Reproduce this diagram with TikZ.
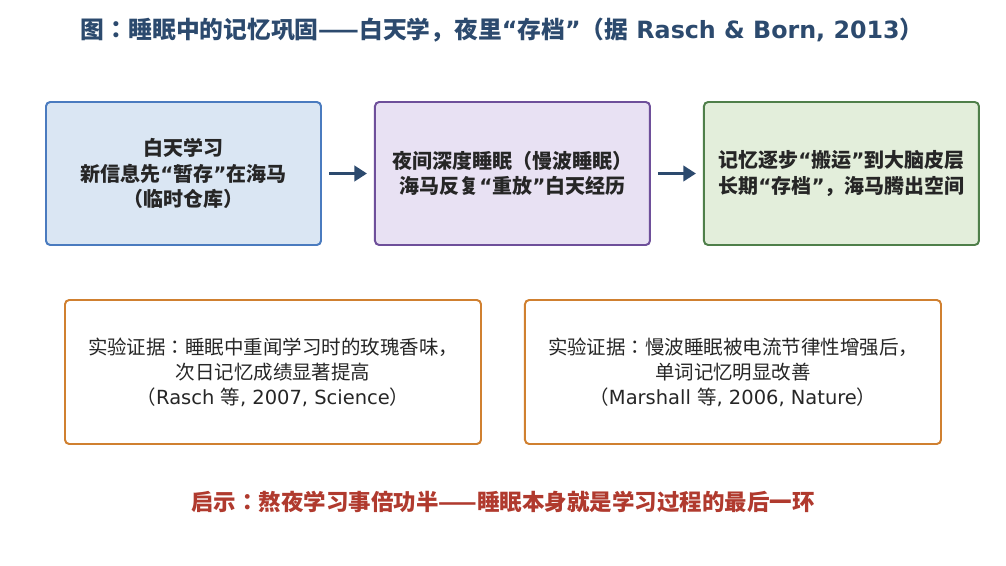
\documentclass[tikz,border=0pt]{standalone}
\usepackage{fontspec}
\setmainfont{DejaVu Sans}
\newfontfamily\cjk{Noto Sans CJK JP}
\usepackage{xcolor}
\usepackage{tikz}
\usetikzlibrary{arrows.meta, positioning}

\definecolor{titleblue}{HTML}{2C4A6E}
\definecolor{dayfill}{HTML}{DAE6F3}
\definecolor{dayline}{HTML}{4A7BBF}
\definecolor{nightfill}{HTML}{E8E1F3}
\definecolor{nightline}{HTML}{6E4F9A}
\definecolor{cortexfill}{HTML}{E3EEDB}
\definecolor{cortexline}{HTML}{4F7F4A}
\definecolor{proofline}{HTML}{D08030}
\definecolor{hintred}{HTML}{B03A2E}

\begin{document}
\begin{tikzpicture}[
    node distance = 1.3cm and 1.3cm,
    stage/.style = {draw, rounded corners=3pt, line width=1.4pt,
                    minimum width=6.875cm, minimum height=3.575cm,
                    align=center, text=black!85,
                    font=\bfseries\fontsize{14.2}{18.3}\selectfont},
    proof/.style = {draw=proofline, fill=white, rounded corners=3pt,
                    line width=1.4pt, minimum width=10.4cm,
                    minimum height=3.6cm, align=center, text=black!85,
                    font=\fontsize{13.85}{17.8}\selectfont},
    flow/.style  = {draw=titleblue, line width=2pt, shorten <=5pt,
                    shorten >=5pt, -{Triangle[length=9pt, width=11pt]}},
                            ]
    \useasboundingbox (0,0) rectangle (25.15,-14.15);
    \node (title) [text=titleblue, font=\bfseries\fontsize{16.9}{19}\selectfont]
        at (12.555,-0.75) {{\cjk 图：睡眠中的记忆巩固——白天学，夜里}“{\cjk 存档}”{\cjk （据} Rasch \& Born, 2013{\cjk ）}};
    \node (day) [stage, fill=dayfill, draw=dayline] at (4.5875,-4.3375)
        {{\cjk 白天学习}\\{\cjk 新信息先}“{\cjk 暂存}”{\cjk 在海马}\\{\cjk （临时仓库）}};
    \node (night) [stage, fill=nightfill, draw=nightline, right=of day]
        {{\cjk 夜间深度睡眠（慢波睡眠）}\\{\cjk 海马反复}“{\cjk 重放}”{\cjk 白天经历}};
    \node (cortex) [stage, fill=cortexfill, draw=cortexline, right=of night]
        {{\cjk 记忆逐步}“{\cjk 搬运}”{\cjk 到大脑皮层}\\{\cjk 长期}“{\cjk 存档}”{\cjk ，海马腾出空间}};
    \node (rasch) [proof] at (6.825,-9.3)
        {{\cjk 实验证据：睡眠中重闻学习时的玫瑰香味，}\\{\cjk 次日记忆成绩显著提高}\\{\cjk （}Rasch {\cjk 等}, 2007, Science{\cjk ）}};
    \node (marshall) [proof, right=1.05cm of rasch]
        {{\cjk 实验证据：慢波睡眠被电流节律性增强后，}\\{\cjk 单词记忆明显改善}\\{\cjk （}Marshall {\cjk 等}, 2006, Nature{\cjk ）}};
    \node (hint) [text=hintred, font=\cjk\bfseries\fontsize{16}{18}\selectfont]
        at (12.57,-12.55) {启示：熬夜学习事倍功半——睡眠本身就是学习过程的最后一环};
    \draw[flow] (day) -- (night);
    \draw[flow] (night) -- (cortex);
\end{tikzpicture}
\end{document}
